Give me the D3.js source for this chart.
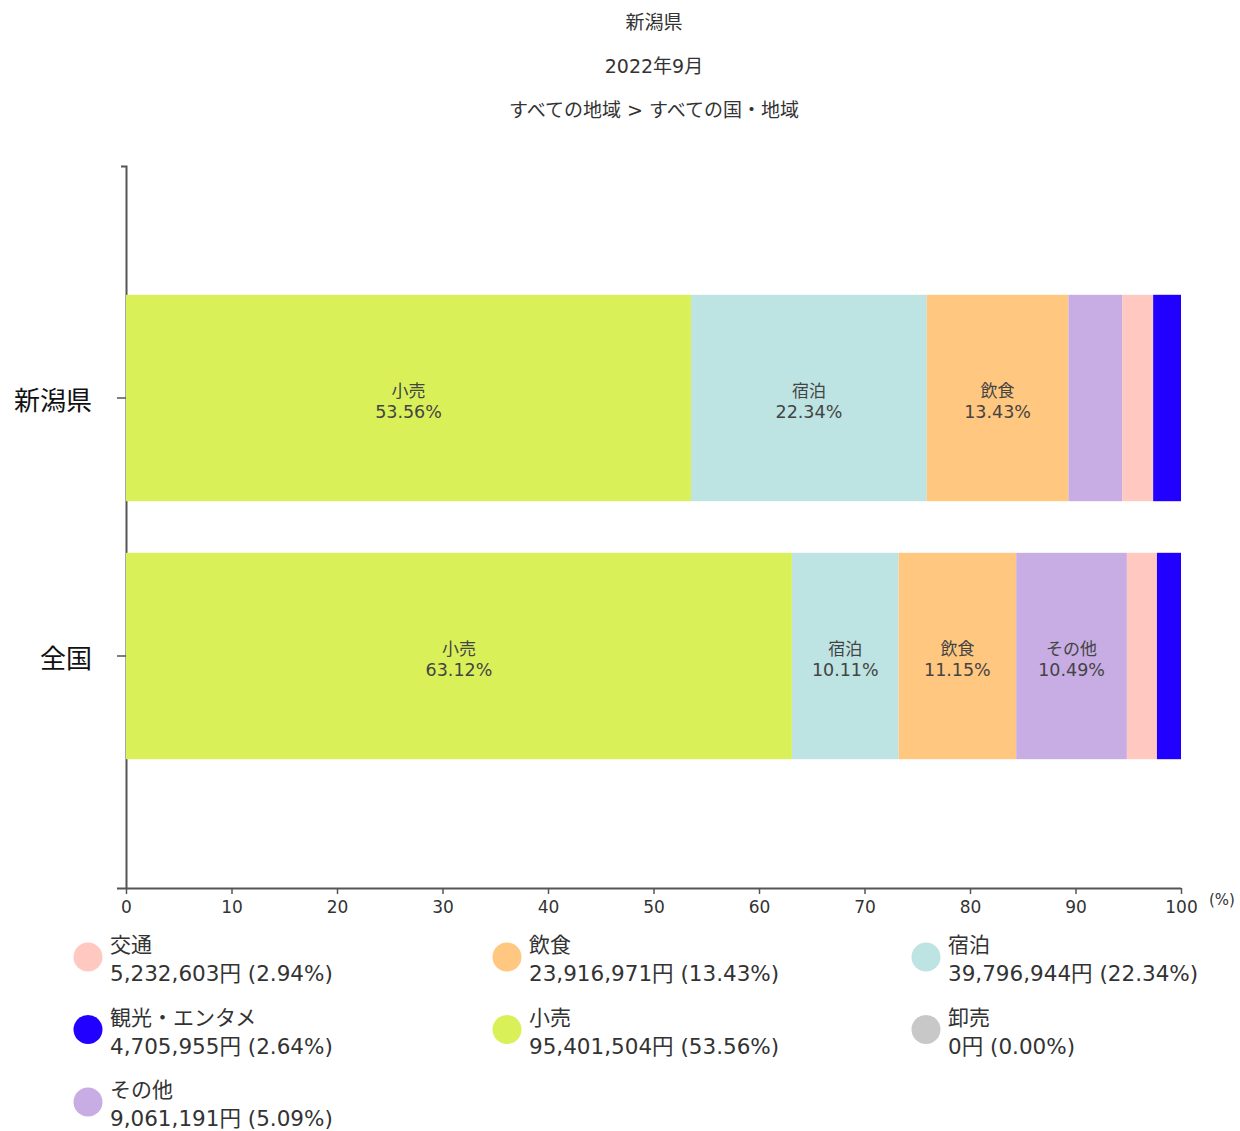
<!DOCTYPE html>
<html><head><meta charset="utf-8">
<script src="https://cdn.jsdelivr.net/npm/d3@7"></script>
<style>
body{margin:0;background:#fff;}
text{font-family:"DejaVu Sans","Noto Sans CJK JP",sans-serif;}
</style></head>
<body><svg id="c" width="1240" height="1131"></svg>
<script>
const titles = ["新潟県", "2022年9月", "すべての地域 > すべての国・地域"];
const regions = ["新潟県", "全国"];
const segOrder = ["小売", "宿泊", "飲食", "その他", "交通", "観光・エンタメ"];
const niigataPct = [53.56, 22.34, 13.43, 5.09, 2.94, 2.64];
const zenkokuPct = [63.12, 10.11, 11.15, 10.49, 2.85, 2.28];
const xTicks = [0,10,20,30,40,50,60,70,80,90,100];
const legendNames = ["交通", "飲食", "宿泊", "観光・エンタメ", "小売", "卸売", "その他"];
const legendValues = ["5,232,603円 (2.94%)", "23,916,971円 (13.43%)", "39,796,944円 (22.34%)", "4,705,955円 (2.64%)", "95,401,504円 (53.56%)", "0円 (0.00%)", "9,061,191円 (5.09%)"];
const colors = {"小売":"#d9f059","宿泊":"#bde3e2","飲食":"#ffc77f","その他":"#c7ade3","交通":"#ffc8c0","観光・エンタメ":"#2200ff","卸売":"#c8c8c8"};
const FF = "'DejaVu Sans','Noto Sans CJK JP',sans-serif";

const svg = d3.select("#c");
svg.selectAll(".title").data(titles).join("text")
  .attr("x", 654).attr("y", (d,i)=>29+i*44)
  .attr("text-anchor","middle").attr("font-size",19).attr("fill","#333").text(d=>d);

const x = d3.scaleLinear().domain([0,100]).range([126,1181]);
const y = d3.scaleBand().domain(regions).range([269,785]).paddingInner(0.2).paddingOuter(0.1);

const xAxis = svg.append("g").attr("transform","translate(0,888)")
  .call(d3.axisBottom(x).tickValues(xTicks).tickSize(6).tickSizeOuter(0).tickPadding(7));
xAxis.select(".domain").attr("d","M117,0.5H1181").attr("stroke","#555").attr("stroke-width",2);
xAxis.selectAll(".tick line").attr("stroke","#555").attr("stroke-width",1.5);
xAxis.selectAll(".tick text").attr("font-size",17).attr("fill","#333").attr("font-family",FF);
svg.append("text").attr("x",1222).attr("y",905).attr("text-anchor","middle").attr("font-size",15).attr("fill","#333").text("(%)");

const yAxis = svg.append("g").attr("transform","translate(126,0)")
  .call(d3.axisLeft(y).tickSize(9).tickPadding(25));
yAxis.select(".domain").attr("d","M-5,166.5H0.5V888").attr("stroke","#555").attr("stroke-width",2).attr("fill","none");
yAxis.selectAll(".tick line").attr("stroke","#555").attr("stroke-width",1.5);
yAxis.selectAll(".tick text").attr("font-size",26).attr("fill","#111").attr("dy","0.45em").attr("font-family",FF);

const rows = [niigataPct, zenkokuPct];
rows.forEach((vals, ri) => {
  let cum = 0;
  const segs = vals.map((v,i)=>{ const s={name:segOrder[i], v, x0:cum}; cum+=v; return s; });
  const g = svg.append("g");
  g.selectAll("rect").data(segs).join("rect")
    .attr("x", d=>x(d.x0)).attr("y", y(regions[ri]))
    .attr("width", d=>x(d.x0+d.v)-x(d.x0)).attr("height", y.bandwidth())
    .attr("fill", d=>colors[d.name]);
  const big = segs.filter(d=>d.v>=10);
  const cy = y(regions[ri])+y.bandwidth()/2;
  g.selectAll("text.n").data(big).join("text").attr("class","n")
    .attr("text-anchor","middle").attr("font-size",17).attr("fill","#444")
    .attr("x", d=>x(d.x0+d.v/2)).attr("y", cy-1).text(d=>d.name);
  g.selectAll("text.v").data(big).join("text").attr("class","v")
    .attr("text-anchor","middle").attr("font-size",17.5).attr("fill","#444")
    .attr("x", d=>x(d.x0+d.v/2)).attr("y", cy+20).text(d=>d.v.toFixed(2)+"%");
});

const lg = svg.append("g");
legendNames.forEach((n,i)=>{
  const col = i%3, row = Math.floor(i/3);
  const cx = 88 + col*419, cy = 957 + row*72.5;
  lg.append("circle").attr("cx",cx).attr("cy",cy).attr("r",14.5).attr("fill",colors[n]);
  lg.append("text").attr("x",cx+22).attr("y",cy-5).attr("font-size",21).attr("fill","#333").text(n);
  lg.append("text").attr("x",cx+22).attr("y",cy+24).attr("font-size",21.5).attr("fill","#333").text(legendValues[i]);
});
</script></body></html>
